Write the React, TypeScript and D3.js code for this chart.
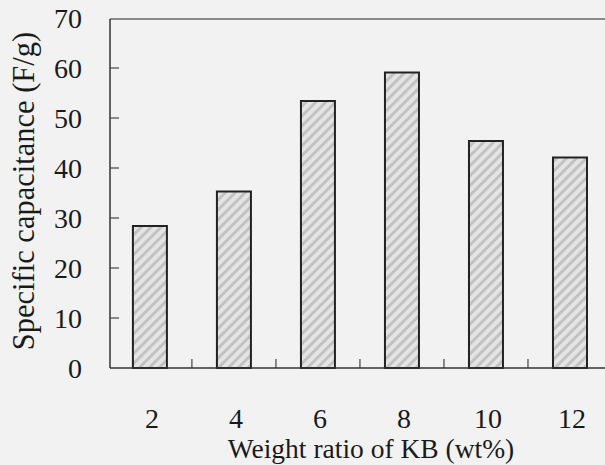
import React from "react";
import * as d3 from "d3";

const categories = [2, 4, 6, 8, 10, 12];
const capacitance = [28.4, 35.3, 53.4, 59.1, 45.4, 42.1];
const yTicks = [0, 10, 20, 30, 40, 50, 60, 70];
const xMinorTicks = [3, 5, 7, 9, 11];
const xTitle = "Weight ratio of KB (wt%)";
const yTitle = "Specific capacitance (F/g)";

const W = 605;
const H = 465;

export default function App() {
  const x = d3.scaleLinear().domain([1.05, 13]).range([110, 612]);
  const y = d3.scaleLinear().domain([0, 70]).range([368, 18]);
  const barW = 34;
  const font = "Liberation Serif";

  return (
    <svg
      width={W}
      height={H}
      style={{ position: "absolute", left: 0, top: 0, display: "block" }}
    >
      <defs>
        <pattern
          id="hatch"
          patternUnits="userSpaceOnUse"
          width={7}
          height={7}
          patternTransform="rotate(45)"
        >
          <rect width={7} height={7} fill="#e4e4e4" />
          <rect width={3} height={7} fill="#c2c2c2" />
        </pattern>
      </defs>
      <rect x={0} y={0} width={W} height={H} fill="#f2f2f2" />

      {/* top frame line */}
      <line x1={x(1.05)} x2={W} y1={y(70) + 1} y2={y(70) + 1} stroke="#666" strokeWidth={1.5} />

      {/* minor x ticks */}
      {xMinorTicks.map((t) => (
        <line key={t} x1={x(t)} x2={x(t)} y1={y(0)} y2={y(0) - 9} stroke="#444" strokeWidth={1.2} />
      ))}

      {/* bars */}
      {categories.map((c, i) => (
        <rect
          key={c}
          x={x(c) - barW / 2}
          y={y(capacitance[i])}
          width={barW}
          height={y(0) - y(capacitance[i])}
          fill="url(#hatch)"
          stroke="#222"
          strokeWidth={2}
        />
      ))}

      {/* axes */}
      <line x1={x(1.05)} x2={W} y1={y(0)} y2={y(0)} stroke="#333" strokeWidth={1.5} />
      <line x1={x(1.05)} x2={x(1.05)} y1={y(0)} y2={y(70) + 1} stroke="#333" strokeWidth={1.5} />

      {/* y ticks */}
      {yTicks.map((t) => (
        <g key={t}>
          {t > 0 && t < 70 && (
            <line x1={x(1.05)} x2={x(1.05) + 9} y1={y(t)} y2={y(t)} stroke="#444" strokeWidth={1.2} />
          )}
          <text
            x={82}
            y={y(t) + 10}
            textAnchor="end"
            fontFamily={font}
            fontSize={28}
            fill="#1a1a1a"
          >
            {t}
          </text>
        </g>
      ))}

      {/* x tick labels */}
      {categories.map((c) => (
        <text
          key={c}
          x={x(c) + 2}
          y={428}
          textAnchor="middle"
          fontFamily={font}
          fontSize={28}
          fill="#1a1a1a"
        >
          {c}
        </text>
      ))}

      <text x={371} y={458} textAnchor="middle" fontFamily={font} fontSize={27.5} fill="#1a1a1a">
        {xTitle}
      </text>
      <text
        transform={`translate(34,191) rotate(-90)`}
        textAnchor="middle"
        fontFamily={font}
        fontSize={30.5}
        fill="#1a1a1a"
      >
        {yTitle}
      </text>
    </svg>
  );
}
